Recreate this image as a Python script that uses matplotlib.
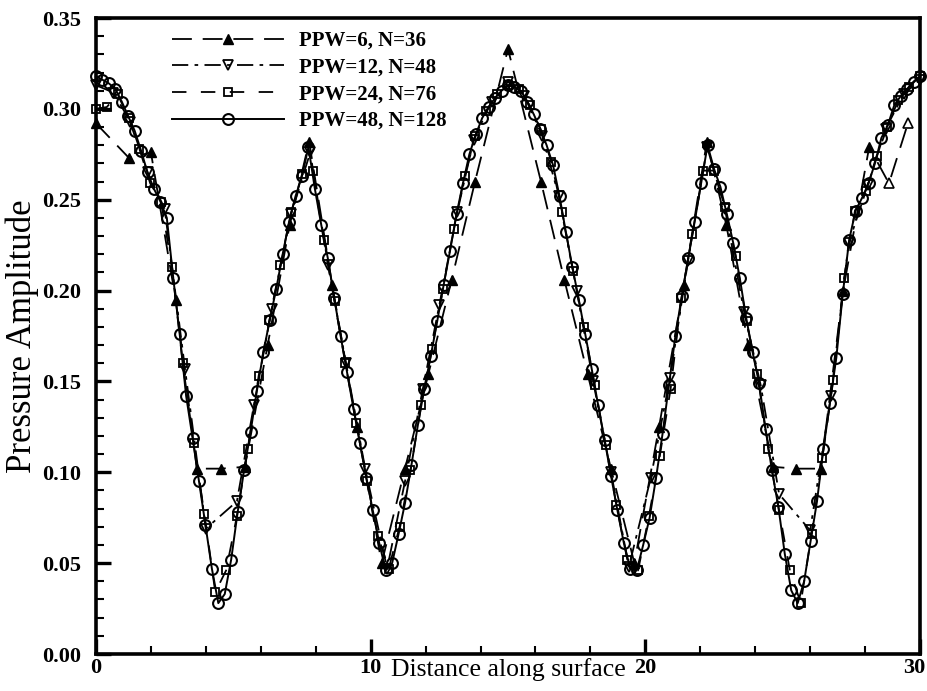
import numpy as np
import matplotlib
matplotlib.use("Agg")
import matplotlib.pyplot as plt
from matplotlib.ticker import MultipleLocator, FormatStrFormatter
from matplotlib.transforms import ScaledTranslation

plt.rcParams['font.family'] = ['Liberation Serif', 'DejaVu Serif']

# ---- PPW=6, N=36 ----
dist_ppw6 = [0.0, 1.2, 2.0, 2.9, 3.67, 4.55, 5.42, 6.25, 7.05, 7.76, 8.6, 9.5,
             10.4, 11.25, 12.1, 12.95, 13.8, 15.0, 16.2, 17.05, 17.9, 18.75,
             19.6, 20.5, 21.4, 22.24, 22.95, 23.75, 24.64, 25.5, 26.39, 27.2,
             28.15, 28.87, 29.56]
amp_ppw6 = [0.292, 0.273, 0.276, 0.195, 0.102, 0.102, 0.103, 0.170, 0.236, 0.282,
            0.203, 0.125, 0.050, 0.102, 0.154, 0.206, 0.260, 0.333, 0.260, 0.206,
            0.154, 0.102, 0.050, 0.125, 0.203, 0.282, 0.236, 0.170, 0.103, 0.102,
            0.102, 0.200, 0.279, 0.259, 0.292]

# ---- PPW=12, N=48 ----
dist_ppw12 = [0.0, 0.63, 1.25, 1.88, 2.5, 3.24, 4.0, 5.13, 5.75, 6.4, 7.1, 7.8,
              8.45, 9.1, 9.8, 10.6, 11.25, 11.9, 12.5, 13.15, 13.75, 14.4, 15.0,
              15.6, 16.25, 16.85, 17.5, 18.1, 18.75, 19.4, 20.2, 20.9, 21.55,
              22.25, 22.9, 23.6, 24.2, 24.87, 26.0, 26.76, 27.4, 28.1, 28.75,
              29.4, 30.0]
amp_ppw12 = [0.313, 0.309, 0.293, 0.265, 0.245, 0.157, 0.069, 0.084, 0.137, 0.190,
             0.242, 0.276, 0.214, 0.160, 0.102, 0.047, 0.095, 0.146, 0.192, 0.243,
             0.283, 0.304, 0.315, 0.307, 0.285, 0.252, 0.200, 0.150, 0.100, 0.048,
             0.097, 0.152, 0.216, 0.279, 0.245, 0.188, 0.148, 0.088, 0.068, 0.142,
             0.226, 0.258, 0.289, 0.308, 0.316]

# ---- PPW=24, N=76 ----
dist_ppw24 = np.linspace(0.0, 30.0, 77)
amp_ppw24 = [0.300, 0.301, 0.308, 0.295, 0.278, 0.259, 0.249, 0.213, 0.160, 0.116,
             0.077, 0.034, 0.046, 0.076, 0.113, 0.153, 0.184, 0.214, 0.243, 0.264,
             0.266, 0.228, 0.194, 0.160, 0.127, 0.095, 0.065, 0.047, 0.070, 0.101,
             0.137, 0.168, 0.201, 0.234, 0.263, 0.285, 0.299, 0.308, 0.313, 0.311,
             0.302, 0.289, 0.271, 0.243, 0.211, 0.180, 0.148, 0.115, 0.082, 0.052,
             0.046, 0.076, 0.109, 0.146, 0.196, 0.231, 0.266, 0.266, 0.246, 0.219,
             0.183, 0.154, 0.113, 0.079, 0.046, 0.028, 0.066, 0.108, 0.151, 0.207,
             0.244, 0.255, 0.274, 0.290, 0.305, 0.312, 0.318]

# ---- PPW=48, N=128 ----
dist_ppw48 = np.linspace(0.0, 30.0, 129)
amp_ppw48 = [0.318, 0.316, 0.314, 0.311, 0.304, 0.296, 0.288, 0.277, 0.265, 0.256,
             0.249, 0.240, 0.207, 0.176, 0.142, 0.119, 0.095, 0.071, 0.047, 0.028,
             0.033, 0.052, 0.078, 0.101, 0.122, 0.145, 0.166, 0.184, 0.201, 0.220,
             0.238, 0.252, 0.263, 0.279, 0.256, 0.236, 0.218, 0.196, 0.175, 0.155,
             0.135, 0.116, 0.097, 0.079, 0.061, 0.046, 0.050, 0.066, 0.083, 0.104,
             0.126, 0.146, 0.164, 0.183, 0.203, 0.222, 0.242, 0.259, 0.275, 0.286,
             0.295, 0.301, 0.306, 0.310, 0.313, 0.312, 0.310, 0.304, 0.297, 0.289,
             0.280, 0.269, 0.252, 0.232, 0.213, 0.195, 0.176, 0.157, 0.137, 0.118,
             0.098, 0.079, 0.061, 0.047, 0.046, 0.060, 0.075, 0.097, 0.121, 0.148,
             0.175, 0.197, 0.218, 0.238, 0.259, 0.280, 0.267, 0.257, 0.242, 0.226,
             0.207, 0.185, 0.166, 0.149, 0.124, 0.101, 0.081, 0.055, 0.035, 0.028,
             0.040, 0.062, 0.084, 0.113, 0.138, 0.163, 0.198, 0.228, 0.244, 0.251,
             0.259, 0.270, 0.284, 0.291, 0.302, 0.307, 0.311, 0.315, 0.318]

labels = ["PPW=6, N=36", "PPW=12, N=48", "PPW=24, N=76", "PPW=48, N=128"]
x_ticks = [0, 10, 20, 30]

fig = plt.figure(figsize=(9.27, 6.91), dpi=100)
ax = fig.add_axes([96 / 927, 37 / 691, 824 / 927, 636 / 691])

n6 = len(dist_ppw6)
ax.plot(dist_ppw6, amp_ppw6, color='black', lw=1.3, dashes=(11, 6),
        marker='^', ms=6.5, mfc='black', mec='black',
        markevery=list(range(n6 - 2)), clip_on=False,
        label=labels[0], zorder=3)
# the last two coarse-mesh points are drawn as hollow triangles
ax.plot(dist_ppw6[-2:], amp_ppw6[-2:], ls='none', marker='^', ms=6.5,
        mfc='white', mec='black', mew=1.2, clip_on=False, zorder=3)
ax.plot(dist_ppw12, amp_ppw12, color='black', lw=1.3, dashes=(9, 3.5, 2, 3.5),
        marker='v', ms=6.5, mfc='none', mec='black', mew=1.3, clip_on=False,
        label=labels[1], zorder=3)
ax.plot(dist_ppw24, amp_ppw24, color='black', lw=1.3, dashes=(8, 8),
        marker='s', ms=5.5, mfc='none', mec='black', mew=1.3, clip_on=False,
        label=labels[2], zorder=3)
ax.plot(dist_ppw48, amp_ppw48, color='black', lw=1.4, ls='-',
        marker='o', ms=7.8, mfc='none', mec='black', mew=1.5, clip_on=False,
        label=labels[3], zorder=4)

ax.set_xlim(0, 30)
ax.set_ylim(0, 0.35)
ax.set_xticks(x_ticks)
ax.xaxis.set_minor_locator(MultipleLocator(2))
ax.yaxis.set_major_locator(MultipleLocator(0.05))
ax.yaxis.set_minor_locator(MultipleLocator(0.01))
ax.yaxis.set_major_formatter(FormatStrFormatter('%.2f'))
ax.xaxis.set_major_formatter(FormatStrFormatter('%d'))

for s in ax.spines.values():
    s.set_linewidth(2.6)
ax.tick_params(which='both', direction='in', top=False, right=False)
ax.tick_params(which='major', length=11, width=2.4, labelsize=16)
ax.tick_params(axis='y', which='major', pad=11)
ax.tick_params(axis='x', which='major', pad=3)
ax.tick_params(which='minor', length=6, width=1.5)

ax.set_xlabel("Distance along surface", fontsize=18.5)
ax.xaxis.set_label_coords(0.5, -0.007)
ax.set_ylabel("Pressure Amplitude", fontsize=25, labelpad=2)

leg = ax.legend(loc='upper left', bbox_to_anchor=(0.087, 0.986), frameon=False,
                prop={'size': 15, 'weight': 'bold'}, handlelength=5.4,
                handletextpad=0.72, labelspacing=0.32, borderpad=0.2,
                borderaxespad=0.0, numpoints=1)

fig.canvas.draw()
for lab in ax.get_xticklabels() + ax.get_yticklabels():
    lab.set_fontweight('bold')
last = ax.xaxis.get_major_ticks()[-1].label1
last.set_horizontalalignment('right')
last.set_transform(last.get_transform() + ScaledTranslation(5 / 100, 0, fig.dpi_scale_trans))

fig.savefig("out.png", dpi=100)
